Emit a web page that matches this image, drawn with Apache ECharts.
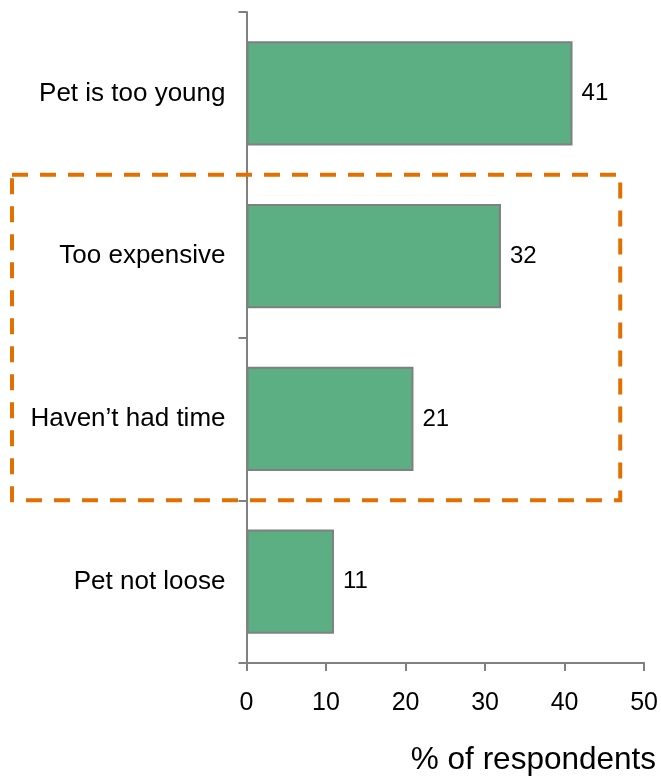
<!DOCTYPE html>
<html>
<head>
<meta charset="utf-8">
<script src="https://cdn.jsdelivr.net/npm/echarts@6/dist/echarts.min.js"></script>
<style>
html,body{margin:0;padding:0;background:#fff;}
#c{width:661px;height:777px;}
</style>
</head>
<body>
<div id="c"></div>
<script>
const categories = ["Pet is too young", "Too expensive", "Haven\u2019t had time", "Pet not loose"];
const values = [41, 32, 21, 11];
const xTicks = [0, 10, 20, 30, 40, 50];
const axisTitle = "% of respondents";
const boxFrom = 1, boxTo = 2, boxRightValue = 47;

(function () {
const FONT = "Liberation Sans, Arial, sans-serif";
const chart = echarts.init(document.getElementById('c'), null, {renderer: 'canvas'});
const option = {
  animation: false,
  backgroundColor: '#fff',
  grid: {left: 246.5, right: 16, top: 12, bottom: 114, containLabel: false},
  title: {
    text: axisTitle, right: 0, bottom: -4,
    textStyle: {fontFamily: FONT, fontSize: 31.5, fontWeight: 'normal', color: '#000'}
  },
  xAxis: {
    type: 'value', min: xTicks[0], max: xTicks[xTicks.length - 1], interval: 10,
    axisLine: {show: true, lineStyle: {color: '#808080', width: 2}},
    axisTick: {show: true, length: 8, lineStyle: {color: '#808080', width: 2}},
    splitLine: {show: false},
    axisLabel: {margin: 28, fontFamily: FONT, fontSize: 25, color: '#000'}
  },
  yAxis: {
    type: 'category', data: categories, inverse: true,
    axisLine: {show: true, lineStyle: {color: '#808080', width: 2}},
    axisTick: {show: true, length: 8, alignWithLabel: false, lineStyle: {color: '#808080', width: 2}},
    axisLabel: {margin: 21, fontFamily: FONT, fontSize: 26, color: '#000'}
  },
  series: [{
    type: 'bar', data: values, barCategoryGap: '36%',
    itemStyle: {color: '#5BAF83', borderColor: '#808080', borderWidth: 2},
    label: {show: true, position: 'right', distance: 9, fontFamily: FONT, fontSize: 24, color: '#000'}
  }]
};
chart.setOption(option);

const p0 = chart.convertToPixel({yAxisIndex: 0}, categories[0]);
const p1 = chart.convertToPixel({yAxisIndex: 0}, categories[1]);
const band = p1 - p0;
const boxTop = chart.convertToPixel({yAxisIndex: 0}, categories[boxFrom]) - band / 2;
const boxBot = chart.convertToPixel({yAxisIndex: 0}, categories[boxTo]) + band / 2;
const boxRight = chart.convertToPixel({xAxisIndex: 0}, boxRightValue);
chart.setOption({
  graphic: [{
    type: 'rect', z: 100, silent: true,
    shape: {x: 12, y: boxTop, width: boxRight - 12, height: boxBot - boxTop},
    style: {fill: 'none', stroke: '#E07000', lineWidth: 4, lineDash: [16, 12]}
  }]
});
})();
</script>
</body>
</html>
